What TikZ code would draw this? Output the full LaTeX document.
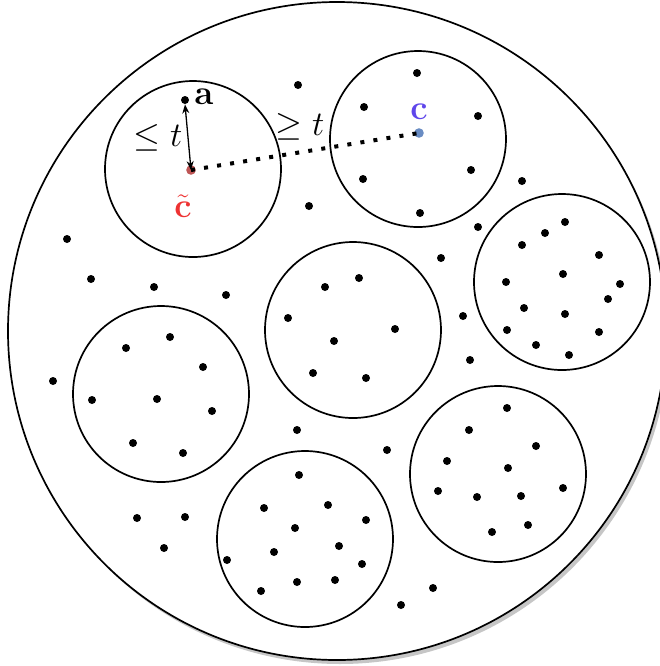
\documentclass[tikz,border=0pt]{standalone}
\usetikzlibrary{arrows.meta}
\definecolor{ctred}{RGB}{238,50,50}
\definecolor{ctdot}{RGB}{190,85,85}
\definecolor{cblue}{RGB}{95,70,235}
\definecolor{cdot}{RGB}{105,140,195}
\begin{document}
\begin{tikzpicture}[x=0.5pt,y=-0.5pt,
  dot/.style={circle,fill=black,inner sep=0pt,minimum size=4pt},
  cdotstyle/.style={circle,fill=#1,inner sep=0pt,minimum size=4.8pt},
  ring/.style={draw=black,line width=0.85pt},
  lbl/.style={inner sep=0pt,font=\fontsize{16.5}{19}\selectfont}]
\useasboundingbox (0,0) rectangle (660,666);
\clip (0,0) rectangle (660,666);
% outer disc with shadow
\fill[gray!45] (340,335) circle (329);
\draw[ring,fill=white] (337,331) circle (329);
% clusters
\foreach \cx/\cy [count=\k] in {193/169,418/139,562/282,353/330,161/394,305/539,498/474}
  \draw[ring] (\cx,\cy) circle (88) coordinate (ball\k);
% points
\foreach \x/\y [count=\i] in {
  417/73,364/107,478/116,363/179,471/170,420/213,
  478/227,522/181,
  565/222,545/233,522/245,599/255,563/274,506/282,620/284,608/299,524/308,565/314,507/330,599/332,536/345,569/355,
  463/316,470/360,441/258,
  359/278,325/287,288/318,395/329,334/341,313/373,366/378,
  297/430,
  170/337,126/348,203/367,53/381,92/400,157/399,212/411,133/443,183/453,
  387/450,299/475,264/508,328/505,366/520,295/528,339/546,274/552,227/560,362/564,297/582,335/580,261/591,401/605,
  507/408,469/430,536/446,447/461,508/468,438/491,477/497,521/496,563/488,528/525,492/532,
  433/588,
  298/85,309/206,67/239,91/279,154/287,226/295,
  137/518,185/517,164/548}
  \node[dot] (p\i) at (\x,\y) {};
% special points
\node[dot] (a) at (185,100) {};
\node[cdotstyle=ctdot] (ct) at (191,170) {};
\node[cdotstyle=cdot] (c) at (419,133) {};
% labels
\node[lbl,anchor=west] (alab) at (194,97) {$\mathbf{a}$};
\node[lbl] (le) at (158,138) {$\le t$};
\node[lbl] (ge) at (300,127) {$\ge t$};
\node[lbl,text=ctred] (ctlab) at (183,206) {$\tilde{\mathbf{c}}$};
\node[lbl,text=cblue] (clab) at (419,112) {$\mathbf{c}$};
% connectors
\draw[line width=0.65pt,{Stealth[length=4.5pt,width=3.5pt]}-{Stealth[length=4.5pt,width=3.5pt]}] (a.south) -- (ct.center);
\draw[line width=2pt,dash pattern=on 2pt off 4.6pt] (ct.center) -- (c.center);
\end{tikzpicture}
\end{document}
